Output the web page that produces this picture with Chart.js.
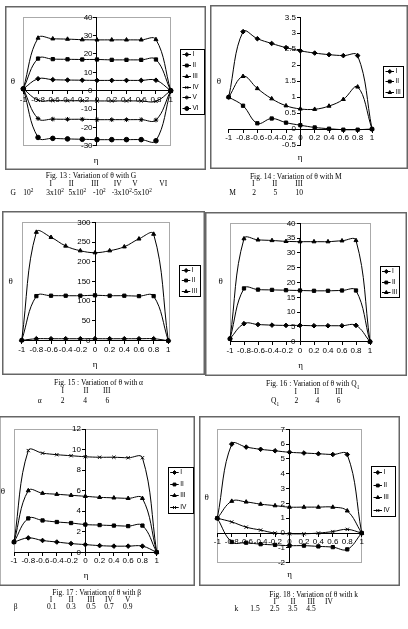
<!DOCTYPE html>
<html>
<head>
<meta charset="utf-8">
<script src="https://cdn.jsdelivr.net/npm/chart.js@4/dist/chart.umd.min.js"></script>
<style>
body { margin: 0; width: 408px; height: 629px; position: relative; overflow: hidden; background: #fff; }
canvas { position: absolute; }
.t { position: absolute; width: 140px; text-align: center; white-space: nowrap; line-height: 1; font-family: "Liberation Serif", "Times New Roman", serif; color: #000; }
.t sup, .t sub { font-size: 70%; line-height: 0; }
</style>
</head>
<body>
<script>
// x positions (eta) shared by all figures
var eta = [-1, -0.8, -0.6, -0.4, -0.2, 0, 0.2, 0.4, 0.6, 0.8, 1];
var names = ['I', 'II', 'III', 'IV', 'V', 'VI'];
var markers = ['rectRot', 'rect', 'triangle', 'crossRot', 'star', 'circle'];

// Fig 13 : theta vs G
var g1 = [1, 6.5, 6, 5.8, 5.7, 5.6, 5.6, 5.6, 5.6, 5.7, 0];
var g2 = [1, 17.5, 17.2, 17.1, 17, 17, 16.8, 16.8, 16.8, 17, 0];
var g3 = [1, 28.7, 28.3, 28.1, 27.8, 27.7, 27.7, 27.7, 27.7, 27.9, 0];
var g4 = [1, -5.2, -5.4, -5.5, -5.5, -5.6, -5.6, -5.6, -5.6, -5.8, 0];
var g5 = [1, -15.2, -15.5, -15.6, -15.6, -15.8, -15.8, -15.8, -15.8, -16, 0];
var g6 = [1, -25.5, -26, -26.3, -26.5, -26.7, -26.7, -26.7, -26.7, -27.3, 0];
var yt13 = [-30, -20, -10, 0, 10, 20, 30, 40];

// Fig 14 : theta vs M
var m1 = [1, 3.05, 2.83, 2.68, 2.55, 2.45, 2.38, 2.33, 2.3, 2.3, 0];
var m2 = [1, 0.73, 0.18, 0.33, 0.2, 0.12, 0.05, 0.01, -0.02, -0.02, 0];
var m3 = [1, 1.65, 1.27, 0.95, 0.73, 0.63, 0.62, 0.72, 0.93, 1.32, 0];
var yt14 = [-0.5, 0, 0.5, 1, 1.5, 2, 2.5, 3, 3.5];

// Fig 15 : theta vs alpha
var a1 = [1, 5, 5, 5, 5, 5, 5, 5, 5, 5, 0];
var a2 = [1, 113, 114, 114, 114, 115, 114, 114, 113, 113, 0];
var a3 = [1, 275, 262, 240, 228, 223, 228, 238, 258, 270, 0];
var yt15 = [0, 50, 100, 150, 200, 250, 300];

// Fig 16 : theta vs Q1
var q1 = [1, 6.1, 5.8, 5.6, 5.5, 5.5, 5.4, 5.4, 5.4, 5.5, 0];
var q2 = [1, 18, 17.6, 17.5, 17.4, 17.3, 17.2, 17.2, 17.3, 17.3, 0];
var q3 = [1, 34.8, 34.4, 34.2, 33.9, 33.8, 33.8, 33.8, 34.1, 34.2, 0];
var yt16 = [0, 5, 10, 15, 20, 25, 30, 35, 40];

// Fig 17 : theta vs beta
var b1 = [1, 1.4, 1.15, 1.0, 0.85, 0.75, 0.65, 0.6, 0.6, 0.6, 0];
var b2 = [1, 3.3, 3.1, 2.95, 2.85, 2.7, 2.65, 2.6, 2.55, 2.6, 0];
var b3 = [1, 6, 5.75, 5.65, 5.55, 5.45, 5.35, 5.3, 5.25, 5.25, 0];
var b4 = [1, 9.9, 9.65, 9.5, 9.4, 9.3, 9.25, 9.25, 9.2, 9.2, 0];
var yt17 = [0, 2, 4, 6, 8, 10, 12];

// Fig 18 : theta vs k
var k1 = [1, 6, 5.8, 5.65, 5.55, 5.45, 5.4, 5.35, 5.3, 5.3, 0];
var k2 = [1, -0.6, -0.65, -0.75, -0.8, -0.85, -0.85, -0.9, -0.95, -1.1, 0];
var k3 = [1, 2.15, 2.1, 1.95, 1.85, 1.75, 1.75, 1.75, 1.75, 1.5, 0];
var k4 = [1, 0.75, 0.4, 0.2, 0.0, -0.05, -0.05, 0, 0.1, 0.25, 0];
var yt18 = [-2, -1, 0, 1, 2, 3, 4, 5, 6, 7];

Chart.defaults.font.family = '"Liberation Sans", Arial, sans-serif';
Chart.defaults.font.size = 8;
Chart.defaults.color = '#000';

function fmtX(v) {
  var r = Math.round(v * 10) / 10;
  return r === 0 ? '0' : String(r);
}
function fmtY(v) {
  // trailing spaces push the right-aligned label off the centre axis
  return String(Math.round(v * 100) / 100) + '  ';
}

function makeChart(c) {
  var L = Math.floor(c.box[0]), T = Math.floor(c.box[1]);
  var W = Math.round(c.box[2] - L), H = Math.round(c.box[3] - T);
  var cv = document.createElement('canvas');
  cv.width = W; cv.height = H;
  cv.style.left = L + 'px'; cv.style.top = T + 'px';
  document.body.appendChild(cv);

  var ds = c.series.map(function(s, i) {
    return {
      label: names[i],
      data: eta.map(function(x, j) { return {x: x, y: s[j]}; }),
      borderColor: '#000', backgroundColor: '#000', borderWidth: 1,
      pointStyle: markers[i], pointRadius: 2.3, pointBorderWidth: 1,
      pointBackgroundColor: '#000', pointBorderColor: '#000',
      tension: 0.4, clip: false
    };
  });

  var frame = {
    id: 'frame',
    beforeDraw: function(ch) {
      if (!c.plotBorder) return;
      var a = ch.chartArea, ctx = ch.ctx;
      ctx.save();
      ctx.strokeStyle = '#aaa'; ctx.lineWidth = 1;
      ctx.strokeRect(Math.round(a.left) + 0.5, Math.round(a.top) + 0.5, Math.round(a.right - a.left), Math.round(a.bottom - a.top));
      ctx.restore();
    },
    afterDraw: function(ch) {
      var ctx = ch.ctx;
      ctx.save();
      // outer frame
      ctx.strokeStyle = '#666'; ctx.lineWidth = 1.5;
      ctx.strokeRect(0.75, 0.75, W - 1.5, H - 1.5);
      // legend box
      var lx = c.legend[0] - L, ly = c.legend[1] - T;
      var lw = c.legend[2] - c.legend[0], lh = c.legend[3] - c.legend[1];
      ctx.strokeStyle = '#000'; ctx.lineWidth = 1;
      ctx.strokeRect(Math.round(lx) + 0.5, Math.round(ly) + 0.5, Math.round(lw), Math.round(lh));
      var n = ds.length, rh = lh / n;
      ctx.font = '6.5px "Liberation Sans", Arial, sans-serif';
      ctx.textBaseline = 'middle';
      for (var i = 0; i < n; i++) {
        var cy = Math.round(ly + rh * (i + 0.5)) + 0.5;
        ctx.strokeStyle = '#000'; ctx.fillStyle = '#000'; ctx.lineWidth = 1;
        ctx.beginPath(); ctx.moveTo(lx + 2.5, cy); ctx.lineTo(lx + 11, cy); ctx.stroke();
        if (Chart.helpers && Chart.helpers.drawPoint) {
          Chart.helpers.drawPoint(ctx, {pointStyle: markers[i], radius: 2, rotation: 0, borderWidth: 1}, lx + 6.8, cy);
        }
        ctx.fillText(names[i], lx + 12.5, cy);
      }
      ctx.restore();
    }
  };

  new Chart(cv, {
    type: 'line',
    data: {datasets: ds},
    options: {
      responsive: false, animation: false, devicePixelRatio: 1,
      layout: {padding: {left: c.plot[0] - L, top: c.plot[1] - T, right: W - (c.plot[2] - L), bottom: H - (c.plot[3] - T)}},
      plugins: {legend: {display: false}, tooltip: {enabled: false}},
      scales: {
        x: {
          type: 'linear', min: -1, max: 1, position: {y: 0},
          ticks: {stepSize: 0.2, padding: 1, maxRotation: 0, autoSkip: false, callback: fmtX},
          grid: {drawOnChartArea: false, tickLength: 3, color: '#000'},
          border: {color: '#000'}
        },
        y: {
          type: 'linear', min: c.yt[0], max: c.yt[c.yt.length - 1], position: {x: 0},
          ticks: {stepSize: c.yt[1] - c.yt[0], padding: 1, autoSkip: false, callback: fmtY},
          grid: {drawOnChartArea: false, tickLength: 3, color: '#000'},
          border: {color: '#000'}
        }
      }
    },
    plugins: [frame]
  });
}

function txt(html, x, y, size) {
  var s = size || 7.5;
  var d = document.createElement('div');
  d.className = 't';
  d.innerHTML = html;
  d.style.left = (x - 70) + 'px';
  d.style.top = (y - s / 2) + 'px';
  d.style.fontSize = s + 'px';
  document.body.appendChild(d);
}

makeChart({box: [5, 6, 205.5, 169.5], plot: [23.3, 17.3, 170.7, 145.7], legend: [180, 49, 203.5, 113.5],
  yt: yt13, series: [g1, g2, g3, g4, g5, g6], plotBorder: true});
makeChart({box: [210.5, 5, 407.5, 168.5], plot: [228.7, 17.3, 372, 145], legend: [383, 66, 403, 96.7],
  yt: yt14, series: [m1, m2, m3], plotBorder: false});
makeChart({box: [2.5, 211.5, 204.5, 374.5], plot: [21.7, 222.3, 168.3, 340.7], legend: [179.3, 265, 200.7, 295.7],
  yt: yt15, series: [a1, a2, a3], plotBorder: true});
makeChart({box: [205, 212, 407, 375.5], plot: [230, 223.3, 370, 341.7], legend: [379.5, 266, 398.5, 297.3],
  yt: yt16, series: [q1, q2, q3], plotBorder: true});
makeChart({box: [-1, 416, 194.5, 586], plot: [14, 429, 156.7, 552.3], legend: [167.7, 466.7, 192.7, 512.3],
  yt: yt17, series: [b1, b2, b3, b4], plotBorder: true});
makeChart({box: [199.5, 416, 399.5, 586], plot: [217.3, 429.3, 361.7, 562.7], legend: [371, 466, 395, 516],
  yt: yt18, series: [k1, k2, k3, k4], plotBorder: true});

// axis titles
txt('θ', 13, 81, 9); txt('η', 96, 160, 9);
txt('θ', 219, 81, 9); txt('η', 300, 157, 9);
txt('θ', 10.7, 281, 9); txt('η', 95, 364, 9);
txt('θ', 220.7, 281.3, 9); txt('η', 300.7, 365, 9);
txt('θ', 2.8, 491, 9); txt('η', 86, 575.7, 9);
txt('θ', 206.7, 497.3, 9); txt('η', 289.7, 574.3, 9);

// captions
txt('Fig. 13 : Variation of θ with G', 91, 175.3);
[['I', 50.7], ['II', 71.3], ['III', 95], ['IV', 117.7], ['V', 135], ['VI', 163.3]].forEach(function(p) { txt(p[0], p[1], 183.3); });
[['G', 13.3], ['10<sup>2</sup>', 28.3], ['3x10<sup>2</sup>', 55], ['5x10<sup>2</sup>', 77.3], ['-10<sup>2</sup>', 99.3], ['-3x10<sup>2</sup>', 121.7], ['-5x10<sup>2</sup>', 141.7]].forEach(function(p) { txt(p[0], p[1], 192.3); });

txt('Fig. 14 : Variation of θ with M', 295.8, 177);
[['I', 253.3], ['II', 274.7], ['III', 299]].forEach(function(p) { txt(p[0], p[1], 183.7); });
[['M', 232.7], ['2', 254], ['5', 275.3], ['10', 299.3]].forEach(function(p) { txt(p[0], p[1], 192.7); });

txt('Fig. 15 : Variation of θ with α', 98.5, 382.7);
[['I', 62.7], ['II', 86], ['III', 106.7]].forEach(function(p) { txt(p[0], p[1], 390.3); });
[['α', 39.7], ['2', 62.7], ['4', 85], ['6', 107.3]].forEach(function(p) { txt(p[0], p[1], 401); });

txt('Fig. 16 : Variation of θ with Q<sub>1</sub>', 312.7, 383.7);
[['I', 295.7], ['II', 316.7], ['III', 339]].forEach(function(p) { txt(p[0], p[1], 392); });
[['Q<sub>1</sub>', 275], ['2', 296.3], ['4', 317.3], ['6', 338.7]].forEach(function(p) { txt(p[0], p[1], 400.7); });

txt('Fig. 17 : Variation of θ with β', 96.7, 592.7);
[['I', 51], ['II', 71], ['III', 91], ['IV', 109], ['V', 127.7]].forEach(function(p) { txt(p[0], p[1], 600); });
[['β', 15.7], ['0.1', 51.7], ['0.3', 71], ['0.5', 91], ['0.7', 109], ['0.9', 127.7]].forEach(function(p) { txt(p[0], p[1], 606.7); });

txt('Fig. 18 : Variation of θ with k', 313.7, 594.3);
[['I', 274.7], ['II', 293], ['III', 311.3], ['IV', 329]].forEach(function(p) { txt(p[0], p[1], 601.7); });
[['k', 236.3], ['1.5', 255], ['2.5', 274.7], ['3.5', 292.7], ['4.5', 311]].forEach(function(p) { txt(p[0], p[1], 609); });
</script>
</body>
</html>
